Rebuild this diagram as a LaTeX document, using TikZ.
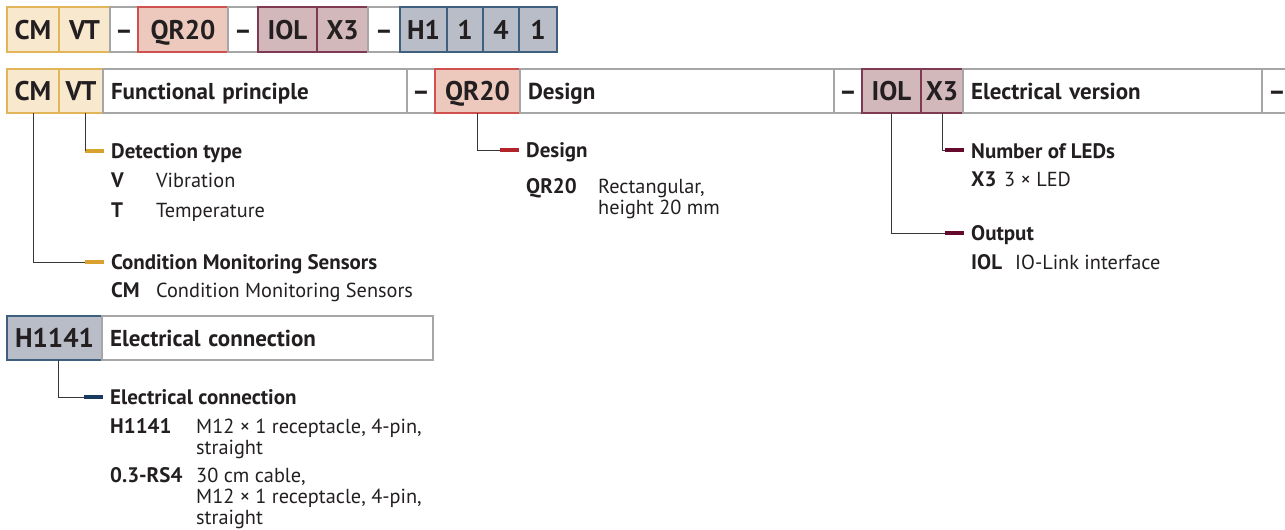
\documentclass[tikz,border=0pt]{standalone}
\usepackage{fontspec}
\setmainfont{PT Sans}
\usetikzlibrary{positioning}

\definecolor{ink}{HTML}{231F20}
\definecolor{grayline}{HTML}{A6A6A6}
\definecolor{goldfill}{HTML}{F8E8CE}
\definecolor{goldline}{HTML}{E3B55A}
\definecolor{goldbar}{HTML}{D9A22E}
\definecolor{redfill}{HTML}{ECC9BC}
\definecolor{redline}{HTML}{D0504F}
\definecolor{redbar}{HTML}{B3232B}
\definecolor{plumfill}{HTML}{D3B8BB}
\definecolor{plumline}{HTML}{7E3A52}
\definecolor{plumbar}{HTML}{650A2C}
\definecolor{bluefill}{HTML}{B9BDC7}
\definecolor{blueline}{HTML}{3F5F7F}
\definecolor{bluebar}{HTML}{173A5E}

\newcommand\twolines[2]{\vtop{\hbox{#1}\hbox{#2}}}
\newcommand\threelines[3]{\vtop{\hbox{#1}\hbox{#2}\hbox{#3}}}

\tikzset{
  box/.style={line width=1.2pt, outer sep=0pt, inner sep=0pt, minimum height=45pt,
    text=ink, text height=19pt, text depth=0pt, font=\fontsize{27}{30}\selectfont\bfseries},
  gold/.style={box, draw=goldline, fill=goldfill},
  red/.style={box, draw=redline, fill=redfill},
  plum/.style={box, draw=plumline, fill=plumfill},
  blue/.style={box, draw=blueline, fill=bluefill},
  dashbox/.style={box, draw=grayline, fill=white},
  headbox/.style={box, draw=grayline, fill=white, align=left, inner xsep=8pt,
    text height=16pt, font=\fontsize{23}{26}\selectfont\bfseries},
  bar/.style={fill=#1, minimum width=19pt, minimum height=4.5pt, inner sep=0pt, anchor=west},
  lead/.style={draw=ink!90, line width=1pt},
  title/.style={anchor=base west, inner sep=0pt, text=ink, font=\fontsize{21}{21}\selectfont\bfseries},
  key/.style={title},
  val/.style={anchor=base west, inner sep=0pt, text=ink, font=\fontsize{20.3}{21}\selectfont}
}

\begin{document}
\begin{tikzpicture}[x=1pt, y=-1pt, node distance=0pt]
\useasboundingbox (0,0) rectangle (1285,530);

% type code
\node (cmA) [gold, minimum width=52pt, anchor=north west] at (7,7) {CM};
\node (vtA) [gold, minimum width=51pt, right=of cmA] {VT};
\node (dA1) [dashbox, minimum width=28pt, right=of vtA] {–};
\node (qrA) [red, minimum width=90pt, right=of dA1] {QR20};
\node (dA2) [dashbox, minimum width=30pt, right=of qrA] {–};
\node (iolA) [plum, minimum width=59pt, right=of dA2] {IOL};
\node (xA) [plum, minimum width=51pt, right=of iolA] {X3};
\node (dA3) [dashbox, minimum width=32pt, right=of xA] {–};
\node (hA) [blue, minimum width=47pt, right=of dA3] {H1};
\node (hB) [blue, minimum width=36pt, right=of hA] {1};
\node (hC) [blue, minimum width=36pt, right=of hB] {4};
\node (hD) [blue, minimum width=38pt, right=of hC] {1};

% header row
\node (cmB) [gold, minimum height=44pt, minimum width=52pt, anchor=north west] at (7,69) {CM};
\node (vtB) [gold, minimum height=44pt, minimum width=44pt, right=of cmB] {VT};
\node (fpB) [headbox, minimum height=44pt, text width=288pt, right=of vtB] {Functional principle};
\node (dB1) [dashbox, minimum height=44pt, minimum width=28pt, right=of fpB] {–};
\node (qrB) [red, minimum height=44pt, minimum width=85pt, right=of dB1] {QR20};
\node (dsB) [headbox, minimum height=44pt, text width=298pt, right=of qrB] {Design};
\node (dB2) [dashbox, minimum height=44pt, minimum width=28pt, right=of dsB] {–};
\node (iolB) [plum, minimum height=44pt, minimum width=59pt, right=of dB2] {IOL};
\node (xB) [plum, minimum height=44pt, minimum width=42pt, right=of iolB] {X3};
\node (evB) [headbox, minimum height=44pt, text width=283pt, right=of xB] {Electrical version};
\node (dB3) [dashbox, minimum height=44pt, minimum width=30pt, right=of evB] {–};

% functional principle
\node (barVT) [bar=goldbar] at (85,151) {};
\node (barCM) [bar=goldbar] at (85,262) {};
\draw [lead] ([xshift=4pt]vtB.south) |- (barVT.west);
\draw [lead] (cmB.south) |- (barCM.west);
\node (tVT) [title] at (111,158) {Detection type};
\node [key] at (111,187) {V};
\node [val] at (156,187) {Vibration};
\node [key] at (111,217) {T};
\node [val] at (156,217) {Temperature};
\node (tCM) [title] at (111,269) {Condition Monitoring Sensors};
\node [key] at (111,297) {CM};
\node [val] at (156,297) {Condition Monitoring Sensors};

% design
\node (barQR) [bar=redbar] at (500,150) {};
\draw [lead] (qrB.south) |- (barQR.west);
\node (tQR) [title] at (526,157) {Design};
\node [key] at (526,193) {QR20};
\node [val] at (598,193) {\twolines{Rectangular,}{height 20 mm}};

% electrical version
\node (barX) [bar=plumbar] at (945,150) {};
\node (barIOL) [bar=plumbar] at (945,233) {};
\draw [lead] (xB.south) |- (barX.west);
\draw [lead] (iolB.south) |- (barIOL.west);
\node (tX) [title] at (971,158) {Number of LEDs};
\node [key] at (971,186) {X3};
\node [val] at (1004,186) {3 × LED};
\node (tIOL) [title] at (971,240) {Output};
\node [key] at (971,269) {IOL};
\node [val] at (1015,269) {IO-Link interface};

% electrical connection
\node (hE) [blue, minimum height=44pt, minimum width=95pt, anchor=north west] at (7,316) {H1141};
\node (ecB) [headbox, minimum height=44pt, text width=315pt, right=of hE] {Electrical connection};
\node (barH) [bar=bluebar] at (84,397) {};
\draw [lead] ([xshift=4pt]hE.south) |- (barH.west);
\node (tH) [title] at (110,404) {Electrical connection};
\node [key] at (110,433) {H1141};
\node [val] at (196,433) {\twolines{M12 × 1 receptacle, 4-pin,}{straight}};
\node [key] at (110,482) {0.3-RS4};
\node [val] at (196,482) {\threelines{30 cm cable,}{M12 × 1 receptacle, 4-pin,}{straight}};
\end{tikzpicture}
\end{document}
